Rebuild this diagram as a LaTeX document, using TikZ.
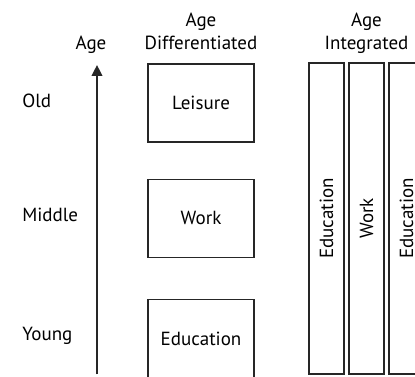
\documentclass[tikz,border=0pt]{standalone}
\usepackage{fontspec}
\setmainfont{PT Sans}
\usepackage{tikz}
\usetikzlibrary{arrows.meta,positioning}

\begin{document}
\begin{tikzpicture}[
  font=\fontsize{11.4}{13.8}\selectfont,
  box/.style={rectangle, draw=black!85, line width=0.8pt,
              minimum width=63.6pt, minimum height=46.8pt, inner sep=2pt},
  col/.style={rectangle, draw=black!85, line width=0.8pt, rotate=90,
              minimum width=186.6pt, minimum height=21pt, inner sep=2pt},
  hdr/.style={align=center, inner sep=1pt},
  agelab/.style={anchor=west, inner sep=0pt},
  arr/.style={-{Triangle[length=6.6pt,width=6.4pt]}, line width=0.9pt, draw=black!85},
]
\useasboundingbox (0,0) rectangle (249pt,226.2pt);
% age differentiated
\node[box] (leisure) at (120.6pt,164.4pt) {Leisure};
\node[box, below=21.6pt of leisure] (work) {Work};
\node[box, below=24.6pt of work] (educ) {Education};
\node[hdr, above=7pt of leisure] (hdiff) {Age\\Differentiated};
% age integrated
\node[col] (c1) at (195.9pt,95.1pt) {Education};
\node[col] (c2) at (219.9pt,95.1pt) {Work};
\node[col] (c3) at (243.9pt,95.1pt) {Education};
\node[hdr, anchor=base] (hint) at (hdiff.base -| c2) {Age\\Integrated};
% age axis
\coordinate (abot) at (58.2pt,1.5pt);
\coordinate (atop) at (58.2pt,187.2pt);
\draw[arr] (abot) -- (atop);
\node[hdr, anchor=base] (hage) at (hdiff.base -| 54.6pt,0) {Age};
\node[agelab] (old) at (13.2pt,165.6pt) {Old};
\node[agelab] (middle) at (13.2pt,97.2pt) {Middle};
\node[agelab] (young) at (13.2pt,24.6pt) {Young};
\end{tikzpicture}
\end{document}
